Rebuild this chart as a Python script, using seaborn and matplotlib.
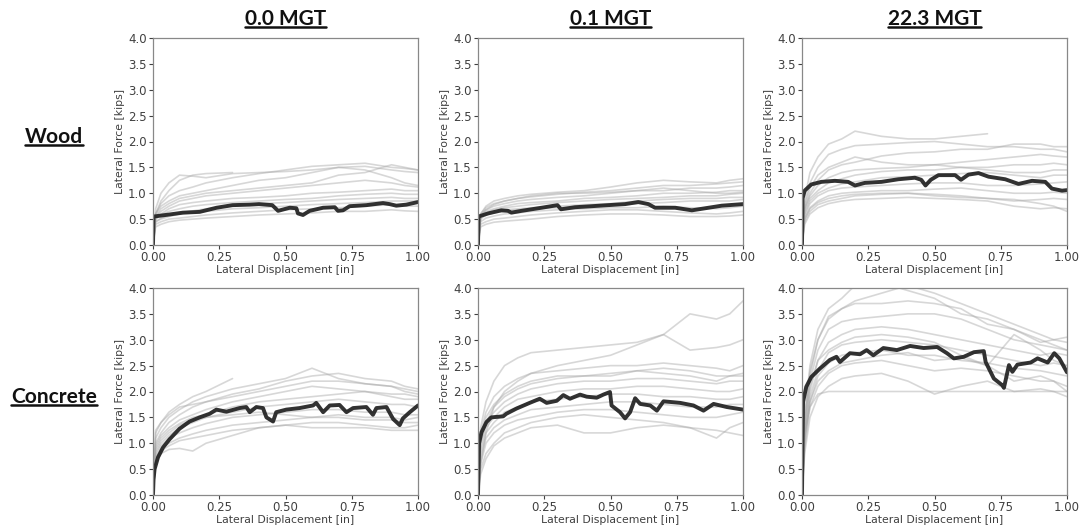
import numpy as np
import pandas as pd
import matplotlib
matplotlib.use('Agg')
import matplotlib.pyplot as plt
from matplotlib.lines import Line2D
import seaborn as sns

nan = np.nan

# common displacement grid for the light (individual test) curves
grid_x = [0, 0.01, 0.03, 0.06, 0.1, 0.15, 0.2, 0.3, 0.4, 0.5, 0.6, 0.7, 0.8, 0.9, 0.95, 1.0]

tonnage = ['0.0 MGT', '0.1 MGT', '22.3 MGT']
ties = ['Wood', 'Concrete']

# ---- Wood, 0.0 MGT
wood_00_x = [0, 0.002, 0.063, 0.113, 0.176, 0.24, 0.30, 0.365, 0.40, 0.45, 0.472, 0.516, 0.541, 0.547,
             0.566, 0.591, 0.642, 0.686, 0.698, 0.717, 0.742, 0.805, 0.868, 0.893, 0.918, 0.956, 1.0]
wood_00_y = [0, 0.55, 0.59, 0.625, 0.64, 0.72, 0.77, 0.78, 0.79, 0.77, 0.66, 0.72, 0.71, 0.61,
             0.58, 0.66, 0.72, 0.73, 0.66, 0.67, 0.75, 0.77, 0.81, 0.79, 0.76, 0.78, 0.83]
wood_00_gray = [
    [0, 0.7, 1.0, 1.2, 1.35, 1.33, 1.3, 1.38, 1.4, 1.42, 1.45, 1.5, 1.52, 1.45, 1.42, 1.4],
    [0, 0.6, 0.8, 0.95, 1.05, 1.12, 1.2, 1.3, 1.38, 1.45, 1.52, 1.55, 1.58, 1.5, 1.48, 1.45],
    [0, 0.6, 0.75, 0.85, 0.95, 1.0, 1.05, 1.15, 1.25, 1.3, 1.4, 1.5, 1.45, 1.3, 1.2, 1.15],
    [0, 0.55, 0.65, 0.75, 0.85, 0.9, 0.95, 1.0, 1.05, 1.1, 1.15, 1.2, 1.25, 1.2, 1.15, 1.12],
    [0, 0.5, 0.6, 0.7, 0.78, 0.82, 0.85, 0.9, 0.92, 0.95, 1.0, 1.02, 1.05, 1.08, 1.05, 1.05],
    [0, 0.5, 0.58, 0.65, 0.7, 0.75, 0.78, 0.82, 0.85, 0.88, 0.9, 0.95, 0.98, 1.0, 0.98, 0.98],
    [0, 0.45, 0.52, 0.58, 0.62, 0.66, 0.7, 0.75, 0.8, 0.82, 0.85, 0.88, 0.9, 0.92, 0.9, 0.9],
    [0, 0.45, 0.5, 0.55, 0.6, 0.62, 0.65, 0.7, 0.72, 0.75, 0.78, 0.8, 0.82, 0.85, 0.85, 0.85],
    [0, 0.4, 0.45, 0.5, 0.52, 0.55, 0.58, 0.62, 0.65, 0.68, 0.7, 0.72, 0.75, 0.78, 0.75, 0.75],
    [0, 0.35, 0.4, 0.45, 0.48, 0.5, 0.52, 0.55, 0.58, 0.6, 0.62, 0.65, 0.65, 0.68, 0.66, 0.65],
    [0, 0.55, 0.7, 0.8, 0.9, 0.95, 1.0, 1.05, 1.1, 1.15, 1.2, 1.35, 1.4, 1.55, 1.5, 1.45],
    [0, 0.6, 0.85, 1.05, 1.25, 1.35, 1.38, 1.4, nan, nan, nan, nan, nan, nan, nan, nan],
]

# ---- Wood, 0.1 MGT
wood_01_x = [0, 0.002, 0.038, 0.088, 0.113, 0.126, 0.164, 0.24, 0.30, 0.313, 0.366, 0.43, 0.49,
             0.555, 0.605, 0.643, 0.668, 0.744, 0.807, 0.87, 0.92, 1.0]
wood_01_y = [0, 0.55, 0.61, 0.67, 0.66, 0.625, 0.66, 0.72, 0.77, 0.69, 0.73, 0.75, 0.77,
             0.79, 0.83, 0.79, 0.72, 0.72, 0.67, 0.72, 0.76, 0.79]
wood_01_gray = [
    [0, 0.6, 0.75, 0.85, 0.9, 0.95, 0.98, 1.02, 1.05, 1.12, 1.2, 1.25, 1.22, 1.2, 1.25, 1.28],
    [0, 0.6, 0.72, 0.8, 0.85, 0.9, 0.93, 0.98, 1.02, 1.05, 1.1, 1.15, 1.15, 1.18, 1.2, 1.22],
    [0, 0.58, 0.68, 0.75, 0.8, 0.85, 0.88, 0.92, 0.95, 1.0, 1.05, 1.05, 1.1, 1.1, 1.12, 1.15],
    [0, 0.55, 0.65, 0.7, 0.75, 0.8, 0.82, 0.85, 0.9, 0.92, 0.95, 1.0, 1.0, 1.02, 1.05, 1.05],
    [0, 0.55, 0.62, 0.68, 0.72, 0.75, 0.78, 0.82, 0.85, 0.88, 0.9, 0.92, 0.95, 0.95, 0.98, 1.0],
    [0, 0.52, 0.6, 0.65, 0.68, 0.7, 0.72, 0.75, 0.78, 0.8, 0.85, 0.88, 0.9, 0.9, 0.92, 0.92],
    [0, 0.5, 0.58, 0.62, 0.65, 0.68, 0.7, 0.72, 0.75, 0.78, 0.8, 0.82, 0.85, 0.85, 0.85, 0.88],
    [0, 0.45, 0.52, 0.56, 0.6, 0.62, 0.65, 0.68, 0.7, 0.72, 0.72, 0.75, 0.72, 0.7, 0.72, 0.75],
    [0, 0.4, 0.45, 0.5, 0.52, 0.55, 0.58, 0.62, 0.65, 0.68, 0.68, 0.65, 0.62, 0.6, 0.62, 0.65],
    [0, 0.35, 0.4, 0.44, 0.46, 0.48, 0.5, 0.55, 0.58, 0.6, 0.6, 0.58, 0.55, 0.55, 0.56, 0.58],
    [0, 0.55, 0.68, 0.78, 0.85, 0.9, 0.95, 1.0, 1.0, 1.02, 1.05, 1.1, 1.05, 1.0, 1.0, 1.02],
]

# ---- Wood, 22.3 MGT
wood_22_x = [0, 0.002, 0.01, 0.035, 0.073, 0.124, 0.174, 0.2, 0.237, 0.30, 0.363, 0.426, 0.45, 0.466,
             0.486, 0.515, 0.578, 0.60, 0.628, 0.666, 0.704, 0.767, 0.817, 0.868, 0.918, 0.943, 0.981, 1.0]
wood_22_y = [0, 0.9, 1.05, 1.17, 1.22, 1.24, 1.22, 1.15, 1.2, 1.22, 1.27, 1.3, 1.26, 1.15,
             1.26, 1.35, 1.35, 1.26, 1.36, 1.39, 1.32, 1.27, 1.18, 1.24, 1.22, 1.09, 1.05, 1.06]
wood_22_gray = [
    [0, 0.9, 1.4, 1.7, 1.95, 2.05, 2.2, 2.1, 2.05, 2.05, 2.1, 2.15, nan, nan, nan, nan],
    [0, 0.8, 1.2, 1.5, 1.75, 1.85, 1.92, 1.95, 1.98, 2.0, 1.95, 1.9, 1.9, 1.85, 1.85, 1.8],
    [0, 0.7, 1.0, 1.25, 1.45, 1.55, 1.6, 1.72, 1.78, 1.8, 1.85, 1.85, 1.95, 1.95, 1.9, 1.9],
    [0, 0.7, 0.95, 1.15, 1.3, 1.4, 1.45, 1.48, 1.5, 1.55, 1.6, 1.65, 1.7, 1.75, 1.72, 1.7],
    [0, 0.65, 0.9, 1.05, 1.2, 1.28, 1.35, 1.42, 1.45, 1.45, 1.5, 1.5, 1.55, 1.55, 1.58, 1.55],
    [0, 0.6, 0.85, 1.0, 1.1, 1.18, 1.22, 1.3, 1.32, 1.35, 1.38, 1.4, 1.35, 1.3, 1.35, 1.35],
    [0, 0.55, 0.8, 0.95, 1.05, 1.1, 1.12, 1.15, 1.18, 1.2, 1.2, 1.15, 1.15, 1.18, 1.2, 1.22],
    [0, 0.5, 0.72, 0.85, 0.95, 1.0, 1.02, 1.05, 1.05, 1.08, 1.1, 1.05, 1.0, 1.0, 1.02, 1.0],
    [0, 0.45, 0.65, 0.78, 0.85, 0.9, 0.95, 0.98, 1.0, 0.98, 0.95, 0.9, 0.85, 0.88, 0.9, 0.88],
    [0, 0.4, 0.6, 0.72, 0.8, 0.85, 0.88, 0.9, 0.92, 0.9, 0.88, 0.85, 0.75, 0.7, 0.72, 0.7],
    [0, 0.5, 0.7, 0.82, 0.9, 0.95, 0.98, 1.0, 1.0, 0.95, 0.92, 0.9, 0.88, 0.8, 0.75, 0.65],
    [0, 0.75, 1.1, 1.35, 1.5, 1.6, 1.7, 1.6, 1.55, 1.55, 1.5, 1.45, 1.4, 1.4, 1.45, 1.45],
]

# ---- Concrete, 0.0 MGT
conc_00_x = [0, 0.002, 0.006, 0.019, 0.038, 0.063, 0.1, 0.138, 0.176, 0.214, 0.239, 0.277, 0.327,
             0.352, 0.365, 0.39, 0.415, 0.428, 0.453, 0.465, 0.503, 0.553, 0.604, 0.616, 0.642,
             0.667, 0.704, 0.73, 0.755, 0.805, 0.83, 0.843, 0.881, 0.906, 0.931, 0.943, 0.969, 1.0]
conc_00_y = [0, 0.3, 0.5, 0.73, 0.92, 1.08, 1.28, 1.42, 1.5, 1.57, 1.65, 1.61, 1.68,
             1.70, 1.60, 1.70, 1.68, 1.50, 1.42, 1.60, 1.65, 1.68, 1.73, 1.78, 1.60,
             1.73, 1.74, 1.60, 1.68, 1.70, 1.55, 1.68, 1.70, 1.47, 1.35, 1.48, 1.60, 1.73]
conc_00_gray = [
    [0, 1.1, 1.3, 1.5, 1.65, 1.8, 1.9, 2.05, 2.15, 2.25, 2.45, 2.25, 2.15, 2.1, 2.05, 2.0],
    [0, 1.2, 1.4, 1.6, 1.75, 1.9, 2.0, 2.25, nan, nan, nan, nan, nan, nan, nan, nan],
    [0, 1.0, 1.2, 1.4, 1.55, 1.7, 1.8, 1.95, 2.05, 2.2, 2.3, 2.35, 2.25, 2.2, 2.1, 2.05],
    [0, 0.95, 1.15, 1.3, 1.45, 1.55, 1.65, 1.8, 1.9, 2.0, 2.1, 2.05, 2.0, 1.95, 1.95, 1.9],
    [0, 0.9, 1.1, 1.25, 1.38, 1.5, 1.55, 1.7, 1.8, 1.85, 1.9, 1.95, 2.0, 1.9, 1.85, 1.85],
    [0, 0.8, 1.0, 1.15, 1.3, 1.4, 1.5, 1.6, 1.7, 1.75, 1.8, 1.85, 1.8, 1.75, 1.75, 1.7],
    [0, 0.75, 0.95, 1.1, 1.2, 1.3, 1.38, 1.5, 1.55, 1.6, 1.65, 1.65, 1.6, 1.6, 1.55, 1.55],
    [0, 0.7, 0.9, 1.0, 1.1, 1.18, 1.25, 1.35, 1.4, 1.45, 1.5, 1.5, 1.45, 1.45, 1.4, 1.4],
    [0, 0.65, 0.85, 0.95, 1.05, 1.1, 1.15, 1.25, 1.3, 1.35, 1.4, 1.4, 1.35, 1.3, 1.3, 1.35],
    [0, 0.6, 0.8, 0.88, 0.9, 0.85, 1.0, 1.15, 1.3, 1.35, 1.3, 1.3, 1.3, 1.25, 1.25, 1.25],
    [0, 1.25, 1.4, 1.55, 1.7, 1.75, 1.8, 1.9, 2.0, 2.1, 2.2, 2.2, 2.15, 2.1, 2.0, 1.95],
    [0, 0.85, 1.05, 1.2, 1.35, 1.45, 1.5, 1.55, 1.6, 1.55, 1.5, 1.55, 1.5, 1.5, 1.45, 1.5],
]

# ---- Concrete, 0.1 MGT
conc_01_x = [0, 0.004, 0.013, 0.032, 0.05, 0.095, 0.107, 0.145, 0.195, 0.233, 0.259, 0.297, 0.322,
             0.347, 0.385, 0.41, 0.448, 0.473, 0.498, 0.504, 0.536, 0.555, 0.574, 0.593, 0.612,
             0.65, 0.675, 0.70, 0.763, 0.813, 0.851, 0.889, 0.939, 1.0]
conc_01_y = [0, 1.0, 1.21, 1.41, 1.5, 1.52, 1.57, 1.67, 1.78, 1.86, 1.78, 1.82, 1.93,
             1.86, 1.94, 1.90, 1.88, 1.94, 1.99, 1.73, 1.60, 1.48, 1.60, 1.87, 1.76,
             1.73, 1.63, 1.81, 1.78, 1.73, 1.63, 1.76, 1.70, 1.65]
conc_01_gray = [
    [0, 0.6, 1.2, 1.7, 2.0, 2.2, 2.35, 2.5, 2.6, 2.7, 2.9, 3.1, 3.5, 3.4, 3.5, 3.75],
    [0, 1.3, 1.8, 2.2, 2.5, 2.65, 2.75, 2.8, 2.85, 2.9, 2.95, 3.1, 2.8, 2.85, 2.9, 3.0],
    [0, 1.2, 1.6, 1.9, 2.1, 2.25, 2.35, 2.4, 2.45, 2.5, 2.5, 2.55, 2.5, 2.45, 2.4, 2.5],
    [0, 1.1, 1.5, 1.75, 1.95, 2.1, 2.2, 2.3, 2.3, 2.35, 2.4, 2.45, 2.4, 2.3, 2.3, 2.35],
    [0, 1.0, 1.4, 1.6, 1.8, 1.95, 2.05, 2.15, 2.2, 2.2, 2.25, 2.25, 2.2, 2.15, 2.2, 2.2],
    [0, 0.9, 1.3, 1.5, 1.7, 1.85, 1.9, 2.0, 2.05, 2.05, 2.1, 2.1, 2.05, 2.0, 2.0, 2.05],
    [0, 0.8, 1.2, 1.4, 1.6, 1.7, 1.8, 1.85, 1.9, 1.95, 1.95, 1.9, 1.9, 1.85, 1.85, 1.9],
    [0, 0.7, 1.1, 1.3, 1.45, 1.55, 1.65, 1.7, 1.75, 1.8, 1.8, 1.75, 1.7, 1.7, 1.75, 1.75],
    [0, 0.6, 1.0, 1.2, 1.35, 1.45, 1.5, 1.6, 1.65, 1.65, 1.6, 1.55, 1.5, 1.5, 1.55, 1.6],
    [0, 0.5, 0.8, 1.0, 1.2, 1.3, 1.4, 1.5, 1.55, 1.5, 1.45, 1.4, 1.3, 1.1, 1.3, 1.4],
    [0, 0.4, 0.7, 0.95, 1.1, 1.2, 1.3, 1.35, 1.2, 1.2, 1.3, 1.35, 1.3, 1.25, 1.2, 1.15],
    [0, 1.0, 1.4, 1.7, 1.9, 2.05, 2.15, 2.25, 2.3, 2.3, 2.4, 2.35, 2.3, 2.2, 2.3, 2.3],
]

# ---- Concrete, 22.3 MGT
conc_22_x = [0, 0.002, 0.004, 0.016, 0.035, 0.067, 0.105, 0.13, 0.143, 0.181, 0.219, 0.244, 0.269,
             0.307, 0.358, 0.408, 0.459, 0.51, 0.547, 0.573, 0.61, 0.649, 0.686, 0.693, 0.724,
             0.756, 0.762, 0.781, 0.794, 0.813, 0.863, 0.889, 0.927, 0.952, 0.971, 1.0]
conc_22_y = [0, 1.0, 1.8, 2.09, 2.28, 2.44, 2.61, 2.67, 2.57, 2.74, 2.72, 2.80, 2.70,
             2.84, 2.80, 2.88, 2.84, 2.86, 2.74, 2.64, 2.67, 2.76, 2.78, 2.57, 2.25,
             2.12, 2.07, 2.51, 2.38, 2.52, 2.56, 2.64, 2.56, 2.74, 2.64, 2.37]
conc_22_gray = [
    [0, 1.5, 2.5, 3.2, 3.6, 3.8, 4.05, 4.1, 3.95, 3.8, 3.5, 3.4, 3.2, 3.0, 2.9, 2.8],
    [0, 1.4, 2.3, 3.0, 3.45, 3.6, 3.7, 3.7, 3.75, 3.7, 3.6, 3.3, 3.2, 2.95, 3.0, 3.05],
    [0, 1.3, 2.2, 2.8, 3.2, 3.35, 3.4, 3.45, 3.5, 3.5, 3.4, 3.2, 3.0, 2.9, 2.85, 2.8],
    [0, 1.2, 2.0, 2.6, 2.95, 3.1, 3.2, 3.25, 3.2, 3.1, 3.0, 2.9, 2.8, 2.7, 2.75, 2.7],
    [0, 1.1, 1.9, 2.4, 2.75, 2.9, 2.95, 3.0, 2.95, 2.9, 2.8, 2.7, 2.6, 2.5, 2.55, 2.5],
    [0, 1.0, 1.8, 2.3, 2.55, 2.7, 2.75, 2.8, 2.7, 2.7, 2.6, 2.55, 2.45, 2.4, 2.35, 2.3],
    [0, 0.9, 1.7, 2.1, 2.35, 2.5, 2.55, 2.6, 2.5, 2.4, 2.45, 2.4, 2.3, 2.2, 2.2, 2.1],
    [0, 0.8, 1.5, 1.9, 2.1, 2.25, 2.3, 2.35, 2.2, 1.95, 2.1, 2.2, 2.0, 2.05, 2.0, 1.9],
    [0, 1.2, 1.7, 1.95, 2.0, 2.0, 2.0, 2.0, 2.0, 2.0, 2.0, 2.0, 2.0, 2.0, 2.0, 2.0],
    [0, 1.5, 2.4, 3.0, 3.4, 3.6, 3.75, 3.9, 4.05, 3.9, 3.7, 3.5, 3.3, 3.1, 3.0, 2.95],
    [0, 1.1, 1.8, 2.2, 2.4, 2.55, 2.6, 2.7, 2.75, 2.6, 2.65, 2.5, 2.2, 2.3, 2.2, 2.0],
    [0, 1.3, 2.1, 2.6, 2.8, 2.95, 3.05, 3.1, 3.05, 2.95, 2.7, 2.5, 3.1, 2.8, 2.6, 2.5],
]

panels = [
    [(wood_00_x, wood_00_y, wood_00_gray), (wood_01_x, wood_01_y, wood_01_gray), (wood_22_x, wood_22_y, wood_22_gray)],
    [(conc_00_x, conc_00_y, conc_00_gray), (conc_01_x, conc_01_y, conc_01_gray), (conc_22_x, conc_22_y, conc_22_gray)],
]

sns.set_style('ticks')
plt.rcParams['font.family'] = ['DejaVu Sans']

W, H = 1080, 529
fig = plt.figure(figsize=(W / 100, H / 100), dpi=100)

col_left = [153, 478, 802]
row_top = [38, 288]
ax_w, ax_h = 265, 207

for r in range(2):
    for c in range(3):
        bx, by, gray = panels[r][c]
        ax = fig.add_axes([col_left[c] / W, 1 - (row_top[r] + ax_h) / H, ax_w / W, ax_h / H])
        long = pd.DataFrame({
            'x': np.tile(grid_x, len(gray)),
            'y': np.concatenate(gray),
            'run': np.repeat(np.arange(len(gray)), len(grid_x)),
        }).dropna()
        sns.lineplot(data=long, x='x', y='y', units='run', estimator=None, color='#a8a8a8',
                     alpha=0.45, lw=1.2, ax=ax, legend=False)
        sns.lineplot(x=bx, y=by, color='#202020', lw=2.8, alpha=0.92, ax=ax, sort=False)
        ax.set_xlim(0, 1)
        ax.set_ylim(0, 4)
        ax.set_xticks([0, 0.25, 0.5, 0.75, 1.0])
        ax.set_xticklabels(['0.00', '0.25', '0.50', '0.75', '1.00'])
        ax.set_yticks(np.arange(0, 4.01, 0.5))
        ax.set_yticklabels([f'{v:.1f}' for v in np.arange(0, 4.01, 0.5)])
        ax.tick_params(labelsize=8.5, colors='#404040', length=3, width=0.8, pad=1.5)
        ax.set_xlabel('Lateral Displacement [in]', fontsize=7.8, color='#404040', labelpad=0.5)
        ax.set_ylabel('Lateral Force [kips]', fontsize=7.8, color='#404040', labelpad=2)
        for sp in ax.spines.values():
            sp.set_color('#888888')
            sp.set_linewidth(0.9)

heads = []
for c, name in enumerate(tonnage):
    cx = (col_left[c] + ax_w / 2) / W
    heads.append(fig.text(cx, 1 - 19 / H, name, ha='center', va='center', fontsize=15,
                          fontweight='bold', family='Lato', color='#111111'))
for r, name in enumerate(ties):
    cy = [137, 397][r]
    heads.append(fig.text(54 / W, 1 - cy / H, name, ha='center', va='center', fontsize=15,
                          fontweight='bold', family='Lato', color='#111111'))

# underline the headers, just under the baseline
fig.canvas.draw()
rend = fig.canvas.get_renderer()
for t in heads:
    bb = t.get_window_extent(rend)
    y_line = (bb.y0 + 2.5) / H
    fig.add_artist(Line2D([bb.x0 / W, bb.x1 / W], [y_line] * 2, transform=fig.transFigure,
                          color='#111111', lw=1.8))

fig.savefig('out.png', dpi=100)
